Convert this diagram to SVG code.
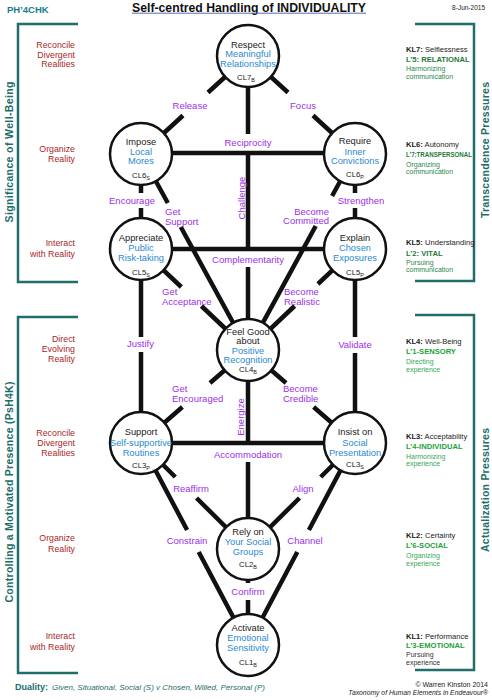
<svg xmlns="http://www.w3.org/2000/svg" width="492" height="700" viewBox="0 0 492 700">
<style>
text { font-family: "Liberation Sans", Arial, sans-serif; }
.conn path { stroke:#111; stroke-width:4.5; fill:none; stroke-linecap:butt; }
.brk { stroke:#1f6e6a; stroke-width:2.5; fill:none; }
.node circle { fill:#fff; stroke:#111; stroke-width:2.5; }
.nk { font-size:9.3px; fill:#222; text-anchor:middle; }
.nb { font-size:9.3px; fill:#2a8ad0; text-anchor:middle; }
.cl { font-size:7.8px; fill:#222; text-anchor:middle; }
.lab { font-size:9.5px; fill:#9b30e8; }
.mid { text-anchor:middle; }
.end { text-anchor:end; }
.red { font-size:8.8px; fill:#a82828; text-anchor:end; }
.kl { font-size:7.6px; fill:#222; }
.klb { font-weight:bold; }
.lg1 { font-size:7.6px; font-weight:bold; fill:#1f7a3a; }
.lg2 { font-size:7.6px; font-weight:bold; fill:#22a33a; }
.d1 { font-size:7px; fill:#2a8a4a; }
.d2 { font-size:7px; fill:#33aa55; }
.d3 { font-size:7px; fill:#333; }
.vt { font-size:10.5px; font-weight:bold; fill:#1c6e6b; text-anchor:middle; }
</style>

<g id="header">
  <text x="7" y="13" font-size="9.5" font-weight="bold" fill="#1a7a8a">PH’4CHK</text>
  <text x="249" y="11.5" font-size="12.2" font-weight="bold" fill="#111" text-anchor="middle" textLength="234" lengthAdjust="spacingAndGlyphs">Self-centred Handling of INDIVIDUALITY</text>
  <line x1="132" y1="13.2" x2="366" y2="13.2" stroke="#5a6ab8" stroke-width="1"/>
  <text x="485" y="9.5" font-size="6.5" fill="#222" text-anchor="end">8-Jun-2015</text>
</g>

<g id="brackets">
  <path class="brk" d="M78,24 H18 V282 H78"/>
  <path class="brk" d="M78,317 H18 V673 H78"/>
  <path class="brk" d="M415,24 H474 V281 H415"/>
  <path class="brk" d="M415,315 H474 V670 H415"/>
  <text class="vt" transform="translate(13,152) rotate(-90)" textLength="141" lengthAdjust="spacing">Significance  of  Well-Being</text>
  <text class="vt" transform="translate(13,492) rotate(-90)" textLength="221" lengthAdjust="spacing">Controlling a Motivated  Presence (PsH4K)</text>
  <text class="vt" transform="translate(488.5,150) rotate(-90)" textLength="136" lengthAdjust="spacing">Transcendence  Pressures</text>
  <text class="vt" transform="translate(488.5,490) rotate(-90)" textLength="124" lengthAdjust="spacing">Actualization  Pressures</text>
</g>

<g id="connectors" class="conn">
  <path d="M248,56 L208,92.5 M183,115.5 L141,154"/>
  <path d="M248,56 L288,92.5 M313,115.5 L355,154"/>
  <path d="M248,56 V134 M248,151 V251 M248,267 V350"/>
  <path d="M141,153 H355"/>
  <path d="M141,249 H355"/>
  <path d="M141,443 H355"/>
  <path d="M141,154 V193 M141,208 V249"/>
  <path d="M355,154 V193 M355,208 V249"/>
  <path d="M141,154 L167.8,203 M180.8,227 L248,350"/>
  <path d="M355,154 L332.1,196 M315.7,226 L248,350"/>
  <path d="M141,249 L181.3,287 M201.4,306 L248,350"/>
  <path d="M355,249 L317.9,284 M294.6,306 L248,350"/>
  <path d="M141,249 V337 M141,352 V443"/>
  <path d="M355,249 V337 M355,353 V443"/>
  <path d="M248,350 L210,383 M182.4,407 L141,443"/>
  <path d="M248,350 L286,383 M313.6,407 L355,443"/>
  <path d="M248,350 V445 M248,462 V549"/>
  <path d="M141,443 L175.3,477 M196.5,498 L248,549"/>
  <path d="M355,443 L320.7,477 M299.5,498 L248,549"/>
  <path d="M141,443 L187.1,530 M198.7,552 L248,645"/>
  <path d="M355,443 L308.9,530 M297.3,552 L248,645"/>
  <path d="M248,549 V583 M248,600 V645"/>
</g>

<g id="connector-labels" class="lab">
  <text class="mid" x="190" y="108.5">Release</text>
  <text class="mid" x="303" y="108.5">Focus</text>
  <text class="mid" x="248" y="145.5">Reciprocity</text>
  <text class="mid" transform="translate(244.5,198) rotate(-90)">Challenge</text>
  <text class="mid" x="132" y="203.5">Encourage</text>
  <text class="mid" x="361" y="203.5">Strengthen</text>
  <text x="165" y="215"><tspan x="165">Get</tspan><tspan x="165" dy="9.5">Support</tspan></text>
  <text class="end" x="329" y="214.5"><tspan x="329">Become</tspan><tspan x="329" dy="9.8">Committed</tspan></text>
  <text class="mid" x="248" y="262.5">Complementarity</text>
  <text x="162" y="294.5"><tspan x="162">Get</tspan><tspan x="162" dy="10">Acceptance</tspan></text>
  <text x="284" y="294.5"><tspan x="284">Become</tspan><tspan x="284" dy="10">Realistic</tspan></text>
  <text class="mid" x="140.5" y="346.5">Justify</text>
  <text class="mid" x="355" y="348">Validate</text>
  <text x="172" y="392"><tspan x="172">Get</tspan><tspan x="172" dy="9.9">Encouraged</tspan></text>
  <text x="283" y="392"><tspan x="283">Become</tspan><tspan x="283" dy="9.9">Credible</tspan></text>
  <text class="mid" transform="translate(243.5,417) rotate(-90)">Energize</text>
  <text class="mid" x="248" y="457.5">Accommodation</text>
  <text class="mid" x="191" y="491.5">Reaffirm</text>
  <text class="mid" x="303" y="491.5">Align</text>
  <text class="mid" x="187" y="543.5">Constrain</text>
  <text class="mid" x="305" y="543.5">Channel</text>
  <text class="mid" x="248" y="594.5">Confirm</text>
</g>

<g id="CL7" class="node">
  <circle cx="248" cy="56" r="31"/>
  <text class="nk" x="248" y="47.5">Respect</text>
  <text class="nb" x="248" y="57">Meaningful</text>
  <text class="nb" x="248" y="66.5">Relationships</text>
  <text class="cl" x="246" y="80">CL7<tspan font-size="5.5" dy="1.5">B</tspan></text>
</g>
<g id="CL6S" class="node">
  <circle cx="141" cy="154" r="31"/>
  <text class="nk" x="141" y="144.5">Impose</text>
  <text class="nb" x="141" y="154.5">Local</text>
  <text class="nb" x="141" y="163.5">Mores</text>
  <text class="cl" x="141" y="178">CL6<tspan font-size="5.5" dy="1.5">S</tspan></text>
</g>
<g id="CL6P" class="node">
  <circle cx="355" cy="154" r="31"/>
  <text class="nk" x="355" y="143.5">Require</text>
  <text class="nb" x="355" y="154.5">Inner</text>
  <text class="nb" x="355" y="163.5">Convictions</text>
  <text class="cl" x="355" y="177">CL6<tspan font-size="5.5" dy="1.5">P</tspan></text>
</g>
<g id="CL5S" class="node">
  <circle cx="141" cy="249" r="31"/>
  <text class="nk" x="141" y="240.5">Appreciate</text>
  <text class="nb" x="141" y="250.5">Public</text>
  <text class="nb" x="141" y="260.5">Risk-taking</text>
  <text class="cl" x="141" y="275">CL5<tspan font-size="5.5" dy="1.5">S</tspan></text>
</g>
<g id="CL5P" class="node">
  <circle cx="355" cy="249" r="31"/>
  <text class="nk" x="355" y="240.5">Explain</text>
  <text class="nb" x="355" y="250.5">Chosen</text>
  <text class="nb" x="355" y="260.5">Exposures</text>
  <text class="cl" x="355" y="275">CL5<tspan font-size="5.5" dy="1.5">P</tspan></text>
</g>
<g id="CL4" class="node">
  <circle cx="248" cy="350" r="31"/>
  <text class="nk" x="248" y="334.5">Feel Good</text>
  <text class="nk" x="248" y="344">about</text>
  <text class="nb" x="248" y="353.5">Positive</text>
  <text class="nb" x="248" y="362.5">Recognition</text>
  <text class="cl" x="248" y="372">CL4<tspan font-size="5.5" dy="1.5">B</tspan></text>
</g>
<g id="CL3P" class="node">
  <circle cx="141" cy="443" r="31"/>
  <text class="nk" x="141" y="434.5">Support</text>
  <text class="nb" x="141" y="445.5">Self-supportive</text>
  <text class="nb" x="141" y="455.5">Routines</text>
  <text class="cl" x="141" y="468">CL3<tspan font-size="5.5" dy="1.5">P</tspan></text>
</g>
<g id="CL3S" class="node">
  <circle cx="355" cy="443" r="31"/>
  <text class="nk" x="355" y="434.5">Insist on</text>
  <text class="nb" x="355" y="445.5">Social</text>
  <text class="nb" x="355" y="455.5">Presentation</text>
  <text class="cl" x="355" y="467">CL3<tspan font-size="5.5" dy="1.5">S</tspan></text>
</g>
<g id="CL2" class="node">
  <circle cx="248" cy="549" r="31"/>
  <text class="nk" x="248" y="534.5">Rely on</text>
  <text class="nb" x="248" y="544.5">Your Social</text>
  <text class="nb" x="248" y="554.5">Groups</text>
  <text class="cl" x="248" y="567">CL2<tspan font-size="5.5" dy="1.5">B</tspan></text>
</g>
<g id="CL1" class="node">
  <circle cx="248" cy="645" r="31"/>
  <text class="nk" x="248" y="630.5">Activate</text>
  <text class="nb" x="248" y="640.5">Emotional</text>
  <text class="nb" x="248" y="650.5">Sensitivity</text>
  <text class="cl" x="248" y="665">CL1<tspan font-size="5.5" dy="1.5">B</tspan></text>
</g>

<g id="left-labels" class="red">
  <text x="75" y="48">Reconcile</text>
  <text x="75" y="57.5">Divergent</text>
  <text x="75" y="67">Realities</text>
  <text x="75" y="152">Organize</text>
  <text x="75" y="162">Reality</text>
  <text x="75" y="246">Interact</text>
  <text x="75" y="257">with Reality</text>
  <text x="75" y="342">Direct</text>
  <text x="75" y="352">Evolving</text>
  <text x="75" y="362">Reality</text>
  <text x="75" y="436">Reconcile</text>
  <text x="75" y="446">Divergent</text>
  <text x="75" y="456">Realities</text>
  <text x="75" y="541">Organize</text>
  <text x="75" y="552">Reality</text>
  <text x="75" y="639">Interact</text>
  <text x="75" y="650">with Reality</text>
</g>

<g id="right-labels">
  <text class="kl" x="406" y="52"><tspan class="klb">KL7:</tspan> Selflessness</text>
  <text class="lg1" x="406" y="62">L’5: RELATIONAL</text>
  <text class="d1" x="406" y="71">Harmonizing</text>
  <text class="d1" x="406" y="78.5">communication</text>

  <text class="kl" x="406" y="147"><tspan class="klb">KL6:</tspan> Autonomy</text>
  <text class="lg1" x="406" y="157" textLength="66" lengthAdjust="spacingAndGlyphs">L’7:TRANSPERSONAL</text>
  <text class="d1" x="406" y="166.5">Organizing</text>
  <text class="d1" x="406" y="174">communication</text>

  <text class="kl" x="406" y="245"><tspan class="klb">KL5:</tspan> Understanding</text>
  <text class="lg1" x="406" y="256">L’2: VITAL</text>
  <text class="d1" x="406" y="264.5">Pursuing</text>
  <text class="d1" x="406" y="272">communication</text>

  <text class="kl" x="406" y="344"><tspan class="klb">KL4:</tspan> Well-Being</text>
  <text class="lg2" x="406" y="353.5">L’1-SENSORY</text>
  <text class="d2" x="406" y="363.5">Directing</text>
  <text class="d2" x="406" y="371.5">experience</text>

  <text class="kl" x="406" y="439"><tspan class="klb">KL3:</tspan> Acceptability</text>
  <text class="lg2" x="406" y="449">L’4-INDIVIDUAL</text>
  <text class="d2" x="406" y="458.5">Harmonizing</text>
  <text class="d2" x="406" y="466">experience</text>

  <text class="kl" x="406" y="538"><tspan class="klb">KL2:</tspan> Certainty</text>
  <text class="lg2" x="406" y="548">L’6-SOCIAL</text>
  <text class="d2" x="406" y="557.5">Organizing</text>
  <text class="d2" x="406" y="565.5">experience</text>

  <text class="kl" x="406" y="639"><tspan class="klb">KL1:</tspan> Performance</text>
  <text class="lg2" x="406" y="648">L’3-EMOTIONAL</text>
  <text class="d3" x="406" y="656.5">Pursuing</text>
  <text class="d3" x="406" y="664.5">experience</text>
</g>

<g id="footer">
  <text x="15" y="690" font-size="8.5" fill="#1c6e6b"><tspan font-weight="bold" font-size="9">Duality:</tspan><tspan font-style="italic" font-size="8" dx="4">Given, Situational, Social (S)  v  Chosen, Willed, Personal (P)</tspan></text>
  <text x="488" y="687" font-size="7" fill="#222" text-anchor="end">© Warren Kinston 2014</text>
  <text x="488" y="695" font-size="6.8" font-style="italic" fill="#222" text-anchor="end">Taxonomy of Human Elements in Endeavour®</text>
</g>
</svg>
